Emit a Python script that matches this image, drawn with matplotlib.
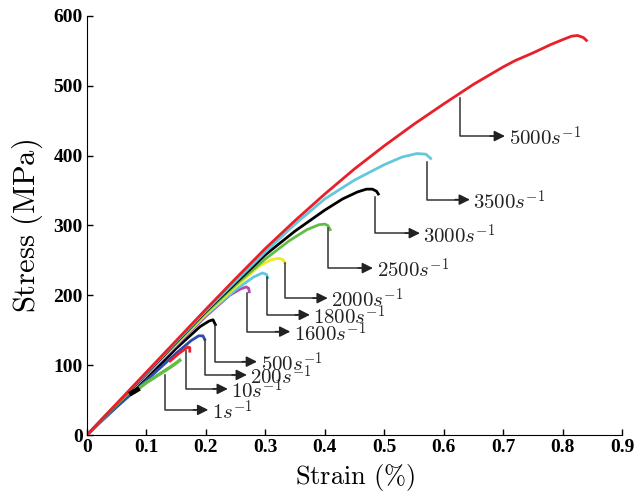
import numpy as np
import matplotlib
matplotlib.use("Agg")
import matplotlib.pyplot as plt

plt.rcParams['mathtext.fontset'] = 'cm'

# strain (%) / stress (MPa) curves
s_5000 = [0, 0.05, 0.1, 0.15, 0.2, 0.25, 0.3, 0.35, 0.4, 0.45, 0.5, 0.55, 0.6, 0.65,
          0.7, 0.72, 0.75, 0.78, 0.8, 0.815, 0.825, 0.835, 0.84]
t_5000 = [0, 45, 90, 135, 180, 224, 267, 307, 345, 381, 414, 445, 474, 502,
          527, 536, 547, 559, 566, 571, 572, 569, 565]
s_3500 = [0, 0.1, 0.2, 0.3, 0.35, 0.4, 0.45, 0.5, 0.53, 0.555, 0.57, 0.578]
t_3500 = [0, 89, 178, 262, 302, 338, 365, 387, 398, 403, 402, 396]
s_3000 = [0, 0.1, 0.2, 0.3, 0.35, 0.4, 0.43, 0.455, 0.47, 0.48, 0.487, 0.49]
t_3000 = [0, 88, 177, 258, 292, 322, 338, 348, 352, 352, 349, 345]
s_2500 = [0, 0.1, 0.2, 0.25, 0.3, 0.34, 0.37, 0.39, 0.4, 0.405, 0.409]
t_2500 = [0, 88, 175, 215, 252, 278, 294, 301, 302, 300, 294]
s_2000 = [0, 0.1, 0.2, 0.25, 0.29, 0.31, 0.322, 0.33, 0.333]
t_2000 = [0, 87, 173, 212, 242, 251, 253, 251, 246]
s_1800 = [0, 0.1, 0.2, 0.25, 0.28, 0.295, 0.302, 0.304]
t_1800 = [0, 87, 172, 208, 226, 232, 230, 225]
s_1600 = [0, 0.1, 0.2, 0.24, 0.258, 0.268, 0.272, 0.273]
t_1600 = [0, 86, 170, 200, 209, 212, 210, 205]
s_500 = [0, 0.05, 0.1, 0.15, 0.19, 0.205, 0.212, 0.216]
t_500 = [0, 42, 80, 124, 155, 163, 165, 158]
s_200 = [0, 0.05, 0.1, 0.15, 0.175, 0.188, 0.195, 0.198]
t_200 = [0, 40, 78, 117, 135, 142, 142, 137]
s_10 = [0.14, 0.155, 0.165, 0.17, 0.173, 0.173]
t_10 = [106, 117, 123, 126, 125, 120]
s_1 = [0.08, 0.1, 0.12, 0.14, 0.15, 0.156]
t_1 = [62, 75, 86, 97, 103, 107]
s_blk = [0.075, 0.085]
t_blk = [60, 65]

# annotation: x of the vertical line, top y, bottom y, arrow tip x, label
ann_x = [0.627, 0.572, 0.485, 0.405, 0.333, 0.303, 0.269, 0.215, 0.199, 0.167, 0.131]
ann_top = [483, 391, 341, 296, 246, 226, 203, 158, 136, 120, 86]
ann_bot = [428, 337, 289, 239, 196, 172, 148, 105, 86, 66, 36]
ann_tip = [0.703, 0.644, 0.56, 0.481, 0.405, 0.375, 0.342, 0.286, 0.269, 0.237, 0.204]
ann_lab = ['5000', '3500', '3000', '2500', '2000', '1800', '1600', '500', '200', '10', '1']

fig = plt.figure(figsize=(6.44, 4.98), dpi=100)
ax = fig.add_axes([0.135, 0.1265, 0.831, 0.8415])

ax.plot(s_500, t_500, color='black', lw=2)
ax.plot(s_200, t_200, color='#2a4bb0', lw=2)
ax.plot(s_1600, t_1600, color='#b04cb0', lw=2)
ax.plot(s_1800, t_1800, color='#63c8dc', lw=2)
ax.plot(s_2000, t_2000, color='#f2ea1e', lw=2)
ax.plot(s_2500, t_2500, color='#62bd44', lw=2)
ax.plot(s_3000, t_3000, color='black', lw=2)
ax.plot(s_3500, t_3500, color='#63c8dc', lw=2)
ax.plot(s_5000, t_5000, color='#e8202a', lw=2)
ax.plot(s_10, t_10, color='#e8202a', lw=2)
ax.plot(s_1, t_1, color='#62bd44', lw=2.5)
ax.plot(s_blk, t_blk, color='black', lw=3.5)

for x, y0, y1, xt, lab in zip(ann_x, ann_top, ann_bot, ann_tip, ann_lab):
    ax.plot([x, x, xt - 0.02], [y0, y1, y1], color='#333333', lw=1.1)
    ax.annotate('', xy=(xt, y1), xytext=(xt - 0.025, y1),
                arrowprops=dict(arrowstyle='-|>', color='#222222', lw=1.1,
                                mutation_scale=16, shrinkA=0, shrinkB=0))
    ax.text(xt + 0.006, y1 - 3, r'$%ss^{-1}$' % lab, fontsize=15,
            va='center', ha='left', color='#222222')

ax.set_xlim(0, 0.9)
ax.set_ylim(0, 600)
ax.set_xticks(np.arange(0, 0.91, 0.1))
ax.set_xticklabels(['0', '0.1', '0.2', '0.3', '0.4', '0.5', '0.6', '0.7', '0.8', '0.9'])
ax.set_yticks(range(0, 601, 100))
for lab in ax.get_xticklabels() + ax.get_yticklabels():
    lab.set_fontfamily('Liberation Serif')
    lab.set_fontweight('bold')
    lab.set_fontsize(14)
ax.tick_params(direction='in', length=4, width=1, pad=3)
ax.spines['top'].set_visible(False)
ax.spines['right'].set_visible(False)
ax.set_xlabel(r'$\mathrm{Strain\ (\%)}$', fontsize=19, labelpad=4)
ax.set_ylabel(r'$\mathrm{Stress\ (MPa)}$', fontsize=22, labelpad=6)

fig.savefig('out.png', dpi=100)
